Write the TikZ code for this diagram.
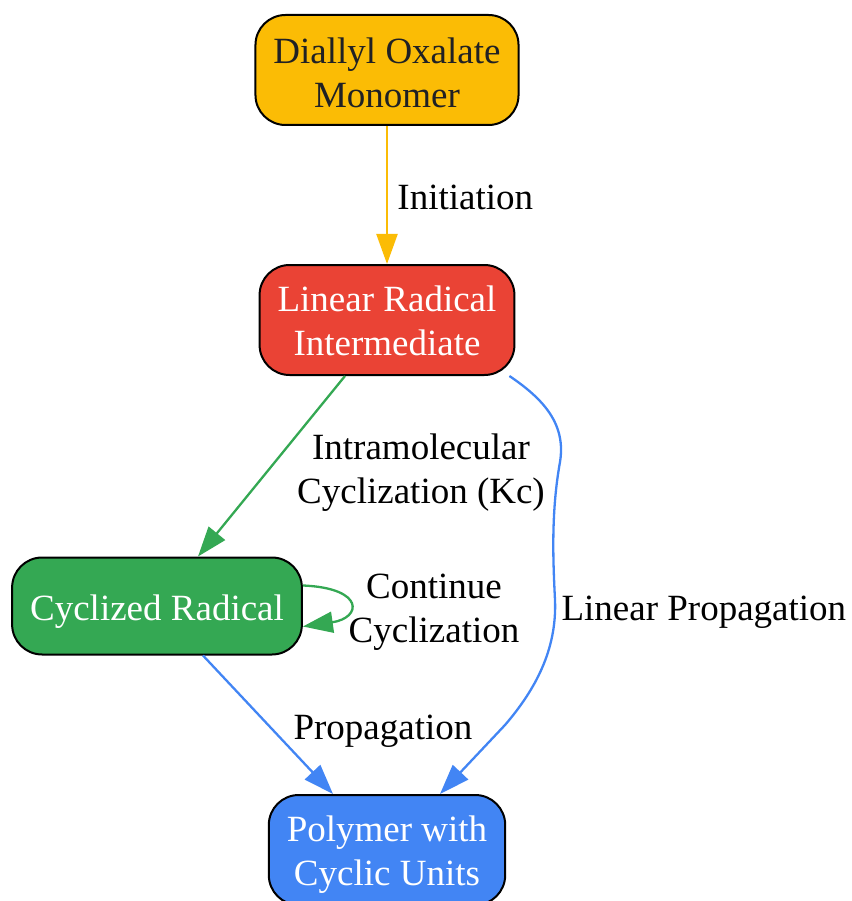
\documentclass[tikz,border=0pt]{standalone}
\usepackage{fontspec}
\setmainfont{Liberation Serif}
\usepackage{xcolor}
\definecolor{yellow_g}{HTML}{FBBC05}
\definecolor{red_g}{HTML}{EA4335}
\definecolor{green_g}{HTML}{34A853}
\definecolor{blue_g}{HTML}{4285F4}
\definecolor{dark_g}{HTML}{202124}
\usepackage{tikz}
\usetikzlibrary{calc,arrows.meta}

\begin{document}
\begin{tikzpicture}
[	x=1pt, y=-1pt,
	every node/.style={font=\fontsize{37}{44}\selectfont},
	stage/.style={draw=black, line width=2pt, rounded corners=30pt, align=center, inner xsep=18pt, inner ysep=5pt, minimum height=110pt},
	monomer/.style={stage, fill=yellow_g, text=dark_g, text height=75pt, text depth=0pt},
	linrad/.style={stage, fill=red_g, text=white, text height=71pt, text depth=0pt},
	cycrad/.style={stage, fill=green_g, text=white, minimum height=97pt, text height=37pt, text depth=8pt},
	polymer/.style={stage, fill=blue_g, text=white, text height=79pt, text depth=8pt},
	flow/.style={line width=2.3pt, -{Triangle[length=30pt,width=21pt]}},
	lbl/.style={align=center, text=black}
]
\useasboundingbox (0,0) rectangle (851,901);

% nodes
\node(mono)[monomer] at (387,70) {Diallyl Oxalate\\Monomer};
\node(lin)[linrad] at (387,320) {Linear Radical\\Intermediate};
\node(cyc)[cycrad] at (157,606) {Cyclized Radical};
\node(pol)[polymer] at (387,850) {Polymer with\\Cyclic Units};

% initiation
\draw[flow, yellow_g](mono)--node[lbl, anchor=west, xshift=6pt, yshift=-2pt]{Initiation}(lin);

% cyclization
\draw[flow, green_g]($(lin.south)+(-42,0)$)--($(cyc.north)+(41,0)$);
\node(cyclbl)[lbl] at (421,473) {Intramolecular\\Cyclization (Kc)};

% loop
\draw[flow, green_g](cyc.8) .. controls (365,588) and (362,618) .. (cyc.-8);
\node(looplbl)[lbl] at (434,612) {Continue\\Cyclization};

% propagation
\draw[flow, blue_g](cyc.south -| 203,0)--($(pol.north)+(-54,0)$);
\node(proplbl)[lbl] at (383,731) {Propagation};

% linear propagation
\draw[flow, blue_g]($(lin.south east)+(-6,0)$) .. controls (545,400) and (566,425) .. (560,462)
	.. controls (551,512) and (553,560) .. (555,600)
	.. controls (557,650) and (535,690) .. (505,725)
	-- ($(pol.north)+(53,0)$);
\node(linlbl)[lbl, anchor=west] at (558,612) {Linear Propagation};

\end{tikzpicture}
\end{document}
